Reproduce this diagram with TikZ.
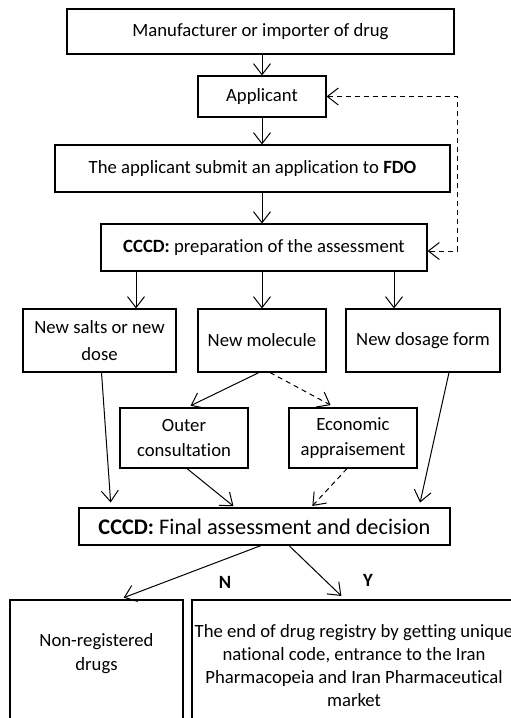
\documentclass[tikz,border=0pt]{standalone}
\usepackage{fontspec}
\setmainfont{Carlito}[Ligatures=NoCommon]
\usetikzlibrary{arrows.meta}
\begin{document}
\begin{tikzpicture}[x=1pt,y=-1pt,
  font=\fontsize{18.7}{23}\selectfont,
  box/.style={draw,line width=1.1pt,inner sep=0pt,align=center},
  tip/.tip={Straight Barb[length=11pt,width=17pt,line width=1pt]},
  arr/.style={line width=1pt,-tip},
  darr/.style={arr,dash pattern=on 5pt off 4pt},
  lbl/.style={inner sep=0pt,align=center}]
\clip (0,0) rectangle (511,718);
\useasboundingbox (0,0) rectangle (511,718);
% main chain
\node[box,minimum width=387,minimum height=45] (b1) at (260.5,31.5) {Manufacturer or importer of drug};
\node[box,minimum width=128,minimum height=41] (app) at (262,96.5) {Applicant};
\node[box,minimum width=395,minimum height=47] (b3) at (252.5,168.5) {The applicant submit an application to \textbf{FDO}};
\node[box,minimum width=326,minimum height=47] (b4) at (264,247.5) {\textbf{CCCD:} preparation of the assessment};
% three kinds of application
\node[box,minimum width=153,minimum height=63,font=\fontsize{18.7}{27}\selectfont] (b5) at (99.5,340.5) {New salts or new\\dose};
\node[box,minimum width=128,minimum height=63] (b6) at (262,340.5) {New molecule};
\node[box,minimum width=154,minimum height=63] (b7) at (423,340.5) {New dosage form};
\node[box,minimum width=128,minimum height=60,font=\fontsize{18.7}{25}\selectfont] (b8) at (184,438) {Outer\\consultation};
\node[box,minimum width=128,minimum height=60,font=\fontsize{18.7}{25}\selectfont] (b9) at (353,438) {Economic\\appraisement};
% decision
\node[box,minimum width=371,minimum height=37,font=\fontsize{22.3}{24}\selectfont] (b10) at (264.5,526.5) {\textbf{CCCD:} Final assessment and decision};
\node[box,minimum width=173,minimum height=140] (b11) at (96.5,670) {};
\node[box,minimum width=328,minimum height=140] (b12) at (356,670) {};
\node[lbl,font=\fontsize{18.7}{24}\selectfont] (t11) at (96.5,654) {Non-registered\\drugs};
\node[lbl,font=\fontsize{18.7}{23}\selectfont] (t12) at (354,666) {The end of drug registry by getting unique\\national code, entrance to the Iran\\Pharmacopeia and Iran Pharmaceutical\\market};
\node[lbl,font=\bfseries\fontsize{18.7}{20}\selectfont] (ln) at (225,582) {N};
\node[lbl,font=\bfseries\fontsize{18.7}{20}\selectfont] (ly) at (368,580) {Y};
% connectors
\draw[arr] (b1.south -| app) -- (app.north);
\draw[arr] (app.south) -- (app.south |- b3.north);
\draw[arr] (app.south |- b3.south) -- (app.south |- b4.north);
\draw[arr] ([xshift=-128]b4.south) -- ([xshift=36.5]b5.north);
\draw[arr] (b4.south -| b6) -- (b6.north);
\draw[arr] ([xshift=130]b4.south) -- ([xshift=-29]b7.north);
\coordinate (fb) at (457,251);
\draw[darr,tip-tip] (app.east) -| (fb) -- ([yshift=-3.5]b4.east);
\draw[arr,shorten >=4pt] ([xshift=-3]b6.south) -- ([xshift=3]b8.north);
\draw[darr,shorten >=5pt] ([xshift=8]b6.south) -- ([xshift=-18]b9.north);
\draw[arr,shorten >=5pt] ([xshift=2]b5.south) -- ([xshift=-153.5]b10.north);
\draw[arr,shorten >=2pt] ([xshift=3]b8.south) -- ([xshift=-29.5]b10.north);
\draw[darr,shorten >=2pt] ([xshift=-6]b9.south) -- ([xshift=46.5]b10.north);
\draw[arr,shorten >=5pt] ([xshift=26]b7.south) -- ([xshift=154.5]b10.north);
\draw[arr,shorten >=5pt] ([xshift=-3.5]b10.south) -- ([xshift=22.5]b11.north);
\draw[arr,shorten >=5pt] ([xshift=24.5]b10.south) -- ([xshift=-11]b12.north);
\end{tikzpicture}
\end{document}
